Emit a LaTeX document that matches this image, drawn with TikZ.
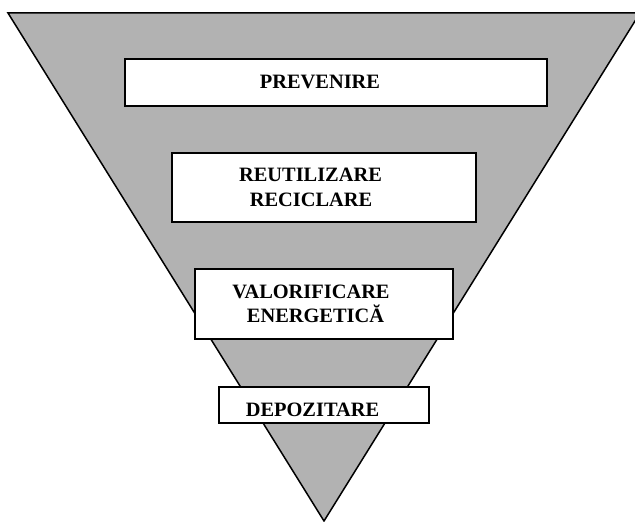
\documentclass[tikz,border=0pt]{standalone}
\usepackage{fontspec}
\setmainfont{Liberation Serif}
\definecolor{funnelgray}{RGB}{178,178,178}
\begin{document}
\begin{tikzpicture}[x=0.5pt,y=-0.5pt,
  stagebox/.style={draw=black, fill=white, line width=0.7pt, inner sep=0pt},
  stagetext/.style={font=\fontsize{10.2}{12.5}\selectfont\bfseries, inner sep=0pt, anchor=base}]
\useasboundingbox (0,0) rectangle (635,522);
\begin{scope}
\clip (0,0) rectangle (635,522);
\draw[fill=funnelgray, line width=0.75pt, line join=miter] (8,13) -- (640,13) -- (324,521) -- cycle;
\end{scope}
\node[stagebox, minimum width=211pt, minimum height=23.5pt] (b1) at (336,82.5) {};
\node[stagebox, minimum width=152pt, minimum height=34.5pt] (b2) at (324,187.5) {};
\node[stagebox, minimum width=129pt, minimum height=35pt] (b3) at (324,304) {};
\node[stagebox, minimum width=105pt, minimum height=18pt] (b4) at (324,405) {};
\node[stagetext] (t1) at (320,89) {PREVENIRE};
\node[stagetext] (t2a) at (310.5,182) {REUTILIZARE};
\node[stagetext] (t2b) at (311,207) {RECICLARE};
\node[stagetext] (t3a) at (311,299) {VALORIFICARE};
\node[stagetext] (t3b) at (315.5,323) {ENERGETICĂ};
\node[stagetext] (t4) at (312.5,416) {DEPOZITARE};
\end{tikzpicture}
\end{document}
